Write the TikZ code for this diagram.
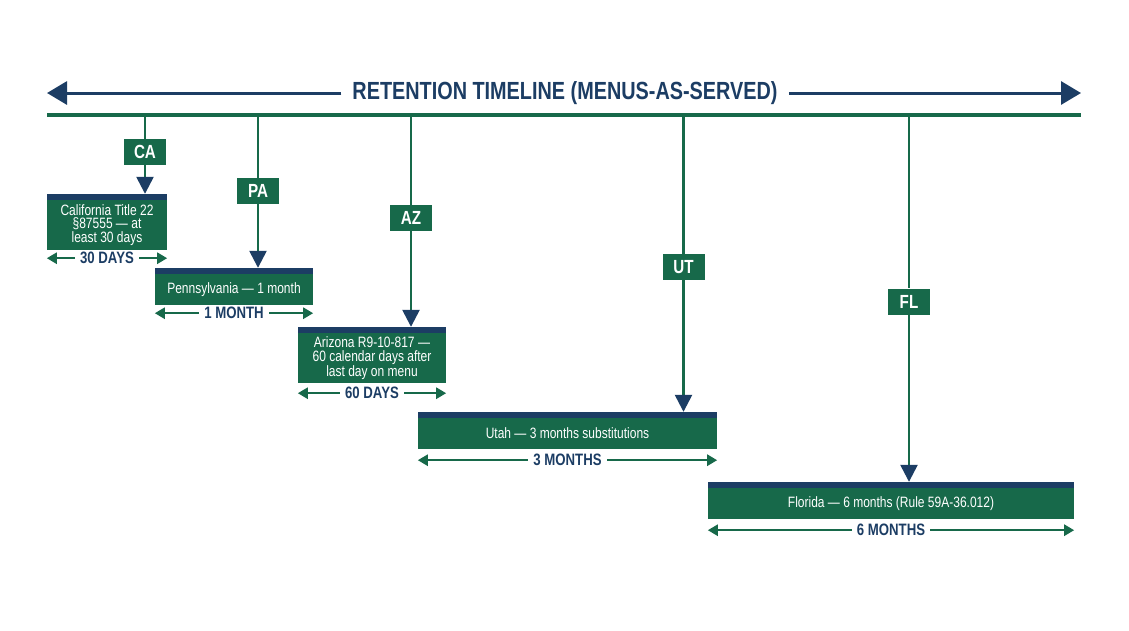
\documentclass[tikz,border=0pt]{standalone}
\usepackage{fontspec}
\setmainfont{Liberation Sans}[FakeStretch=0.8]
\usetikzlibrary{arrows.meta}
\definecolor{tlgreen}{HTML}{17694A}
\definecolor{tlnavy}{HTML}{1C3D64}
\tikzset{
  headline/.style={draw=tlnavy, line width=3pt, -{Triangle[length=20pt,width=23pt]}},
  titletext/.style={text=tlnavy, font=\fontsize{24.8}{25}\selectfont\bfseries, inner xsep=11pt},
  tag/.style={fill=tlgreen, text=white, font=\fontsize{19}{19}\selectfont\bfseries, minimum width=42pt, minimum height=26pt, inner sep=0pt},
  rulebox/.style={fill=tlgreen, text=white, font=\fontsize{15}{13.5}\selectfont, align=center, inner sep=0pt,
    append after command={\pgfextra{\fill[tlnavy] (\tikzlastnode.north west) rectangle ([yshift=6pt]\tikzlastnode.north east);}}},
  link/.style={draw=tlgreen, line width=2.5pt},
  drop/.style={draw=tlgreen, line width=2.5pt, -{Triangle[color=tlnavy,length=17pt,width=17pt]}},
  span/.style={draw=tlgreen, line width=2.5pt, {Triangle[length=10pt,width=11pt]}-{Triangle[length=10pt,width=11pt]}},
  spanlabel/.style={fill=white, text=tlnavy, font=\fontsize{16.5}{16.5}\selectfont\bfseries, inner xsep=5pt, inner ysep=1pt}
}
\begin{document}
\begin{tikzpicture}[x=1pt,y=-1pt]
\useasboundingbox[fill=white] (0,0) rectangle (1129,630);
\node[titletext] (title) at (565,93) {RETENTION TIMELINE (MENUS-AS-SERVED)};
\coordinate (tlW) at (47,93);
\coordinate (tlE) at (1081,93);
\draw[headline] (title.west) -- (tlW);
\draw[headline] (title.east) -- (tlE);
\coordinate (baseW) at (47,115);
\coordinate (baseE) at (1081,115);
\draw[tlgreen, line width=3.5pt] (baseW) -- (baseE);
\node[rulebox, minimum width=120pt, minimum height=50pt] (caBox) at (107,225) {California Title 22\\ §87555 — at\\ least 30 days};
\node[rulebox, minimum width=158pt, minimum height=31pt] (paBox) at (234,289.5) {Pennsylvania — 1 month};
\node[rulebox, minimum width=148pt, minimum height=50pt] (azBox) at (372,358) {Arizona R9-10-817 —\\ 60 calendar days after\\ last day on menu};
\node[rulebox, minimum width=299pt, minimum height=31pt] (utBox) at (567.5,433.5) {Utah — 3 months substitutions};
\node[rulebox, minimum width=366pt, minimum height=31pt] (flBox) at (891,503.5) {Florida — 6 months (Rule 59A-36.012)};
\coordinate (caTop) at (145,115);
\coordinate (paTop) at (258,115);
\coordinate (azTop) at (411,115);
\coordinate (utTop) at (683.5,115);
\coordinate (flTop) at (909,115);
\node[tag] (caTag) at (145,152) {CA};
\node[tag] (paTag) at (258,191) {PA};
\node[tag] (azTag) at (411,218) {AZ};
\node[tag] (utTag) at (683.5,267) {UT};
\node[tag] (flTag) at (909,301.5) {FL};
\draw[link] (caTop) -- (caTag);
\draw[link] (paTop) -- (paTag);
\draw[link] (azTop) -- (azTag);
\draw[link] (utTop) -- (utTag);
\draw[link] (flTop) -- (flTag);
\draw[drop] (caTag) -- ([yshift=6pt]caTag |- caBox.north);
\draw[drop] (paTag) -- ([yshift=6pt]paTag |- paBox.north);
\draw[drop] (azTag) -- ([yshift=6pt]azTag |- azBox.north);
\draw[drop] (utTag) -- ([yshift=6pt]utTag |- utBox.north);
\draw[drop] (flTag) -- ([yshift=6pt]flTag |- flBox.north);
\draw[span] ([yshift=-8pt]caBox.south west) -- node[spanlabel] {30 DAYS} ([yshift=-8pt]caBox.south east);
\draw[span] ([yshift=-8pt]paBox.south west) -- node[spanlabel] {1 MONTH} ([yshift=-8pt]paBox.south east);
\draw[span] ([yshift=-10pt]azBox.south west) -- node[spanlabel] {60 DAYS} ([yshift=-10pt]azBox.south east);
\draw[span] ([yshift=-11pt]utBox.south west) -- node[spanlabel] {3 MONTHS} ([yshift=-11pt]utBox.south east);
\draw[span] ([yshift=-11pt]flBox.south west) -- node[spanlabel] {6 MONTHS} ([yshift=-11pt]flBox.south east);
\end{tikzpicture}
\end{document}
